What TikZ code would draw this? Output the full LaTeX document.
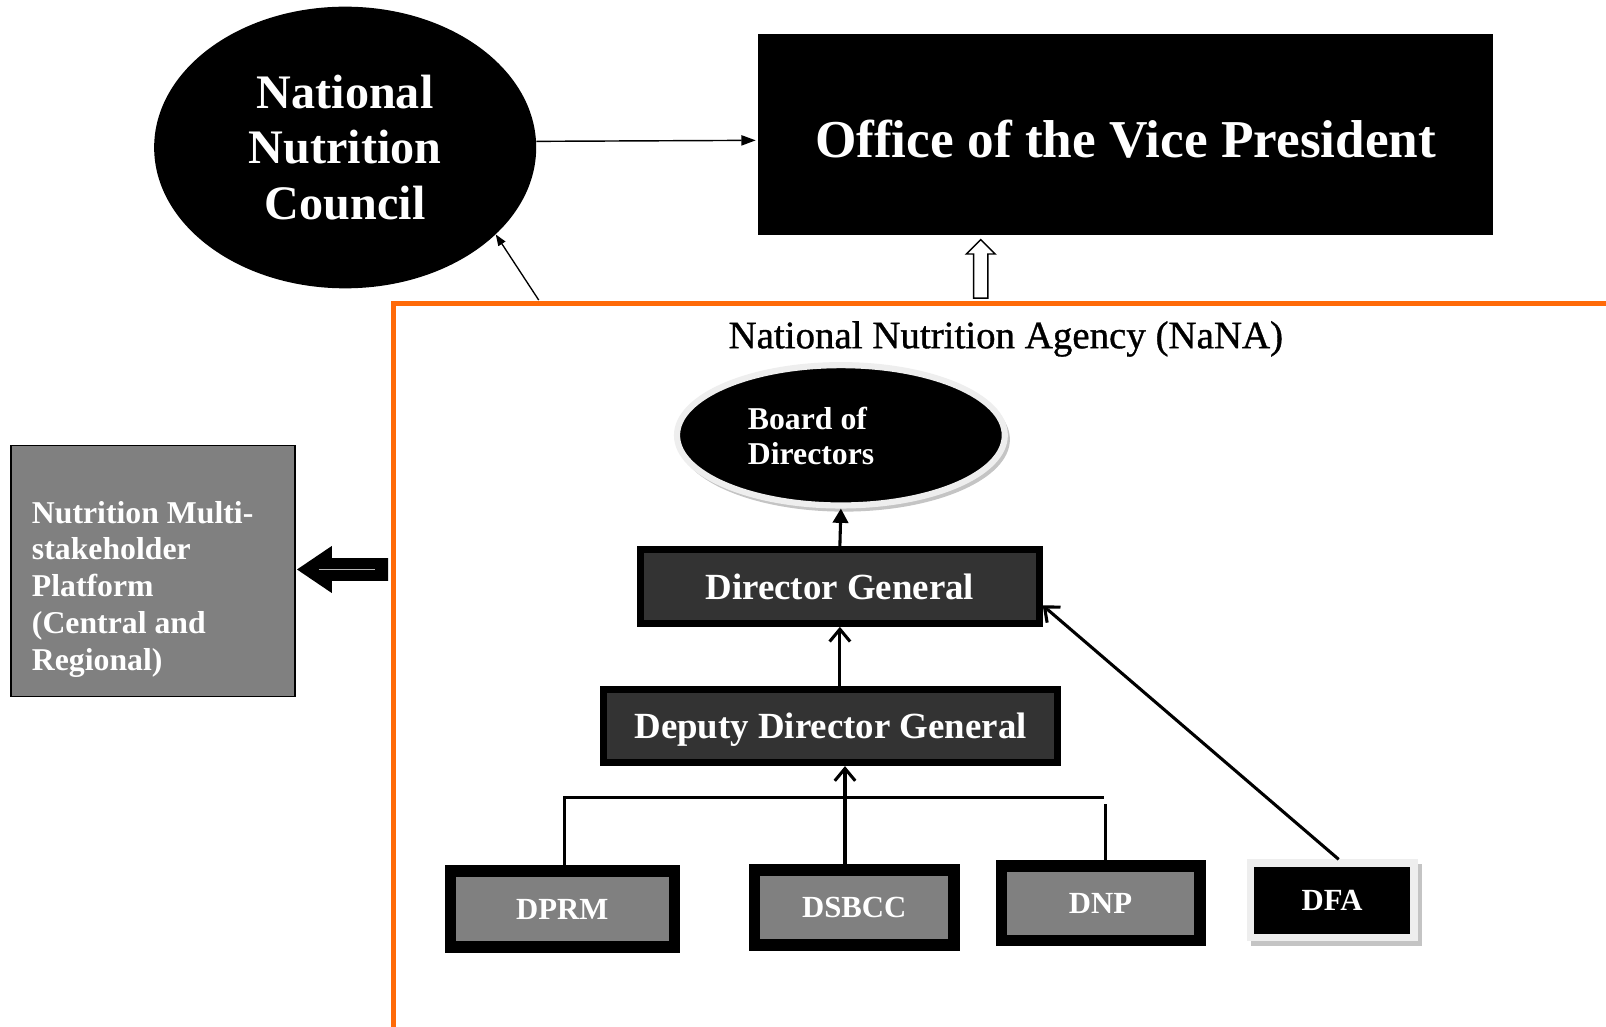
\documentclass[tikz,border=0pt]{standalone}
\usepackage{fontspec}
\setmainfont{Liberation Serif}
\newfontfamily\titlefont{Liberation Serif}[FakeBold=0.9]
\usetikzlibrary{arrows.meta,shapes.geometric,calc}
\definecolor{nanaorange}{RGB}{255,106,8}
\definecolor{darkfill}{RGB}{51,51,51}
\definecolor{midgray}{RGB}{128,128,128}
\definecolor{ringgray}{RGB}{238,238,238}
\definecolor{shadowgray}{RGB}{196,196,196}
\begin{document}
\begin{tikzpicture}[x=1pt,y=-1pt,
  rankbox/.style={rectangle, draw=black, line width=7pt, fill=darkfill, text=white,
    font=\bfseries\fontsize{36}{40}\selectfont, inner sep=0pt, text depth=0pt},
  divbox/.style={rectangle, draw=black, line width=11pt, fill=midgray, text=white,
    font=\bfseries\fontsize{30}{34}\selectfont, inner sep=0pt, text depth=0pt},
  link/.style={line width=3pt},
  openhead/.style={-{Straight Barb[length=12pt,width=20pt]}},
  fillhead/.style={-{Triangle[length=14pt,width=15pt]}},
  thinlink/.style={line width=1.4pt},
  hollowarrow/.style={draw=black, fill=white, line width=1.4pt}
]
\useasboundingbox (0,0) rectangle (1568,1002);
\fill[white] (0,0) rectangle (1568,1002);

% top level
\node[ellipse, fill=black, inner sep=0pt, minimum width=373pt, minimum height=275pt,
  text=white, align=center, font=\bfseries\fontsize{47}{54}\selectfont]
  (nnc) at (337,144) {National\\Nutrition\\Council};
\node[rectangle, fill=black, inner sep=0pt, minimum width=718pt, minimum height=196pt]
  (ovp) at (1099,131) {};
\node[text=white, inner sep=0pt, font=\bfseries\fontsize{52}{60}\selectfont]
  (ovptext) at ([yshift=-5pt]ovp.center) {Office of the Vice President};

% NaNA frame
\draw[nanaorange, line width=5pt] (1580,296) -| (384,1012);
\coordinate (otopA) at (526,293);
\coordinate (otopB) at (957,293);
\coordinate (oleft) at (382,556);
\node[inner sep=0pt, anchor=base, font=\titlefont\fontsize{38}{44}\selectfont]
  (title) at (982,340) {National Nutrition Agency (NaNA)};

% connectors at the top
\draw[thinlink, -{Triangle[length=14pt,width=10pt]}, shorten >=2pt]
  ([yshift=6pt]nnc.east) -- ([yshift=-6pt]ovp.west);
\draw[line width=1.3pt, -{Triangle[length=11pt,width=8pt]}] (otopA) -- (nnc.-30);
\draw[hollowarrow] (otopB) ++(-6.5,-2) -- ++(0,-43) -- ++(-7,0) -- ++(14,-14)
  -- ++(14,14) -- ++(-7,0) -- ++(0,43) -- cycle;

% multi-stakeholder platform
\node[rectangle, draw=black, line width=1.5pt, fill=midgray, inner sep=0pt,
  minimum width=277pt, minimum height=245pt] (nmp) at (149.5,557.5) {};
\node[anchor=north west, align=left, text=white, inner sep=0pt,
  font=\bfseries\fontsize{31}{36}\selectfont]
  (nmptext) at (31,489) {Nutrition Multi-\\stakeholder\\Platform\\(Central and\\Regional)};
\fill[black] (oleft) ++(-3,-11) -- ++(-55,0) -- ++(0,-12) -- ++(-34,23) -- ++(34,23)
  -- ++(0,-12) -- ++(55,0) -- cycle;
\draw[gray!55, line width=1pt] (311,556) -- (366,556);

% board of directors
\fill[shadowgray] (824,429) ellipse [x radius=162pt, y radius=70.5pt];
\node[ellipse, fill=black, draw=ringgray, line width=6pt, inner sep=0pt,
  minimum width=320pt, minimum height=137pt] (board) at (821,425) {};
\node[anchor=north west, align=left, text=white, inner sep=0pt,
  font=\bfseries\fontsize{31}{34}\selectfont]
  (boardtext) at (730,397) {Board of\\Directors};

% hierarchy
\node[rankbox, minimum width=389pt, minimum height=72pt] (dg) at (820,572.5) {Director General};
\node[rankbox, minimum width=443pt, minimum height=71pt] (ddg) at (811,709) {Deputy Director General};
\node[divbox, minimum width=219pt, minimum height=74pt] (dprm) at (549,887.5) {DPRM};
\node[divbox, minimum width=195pt, minimum height=73pt] (dsbcc) at (834,886) {DSBCC};
\node[divbox, minimum width=194pt, minimum height=73pt] (dnp) at (1074.5,882) {DNP};
\fill[shadowgray] (1221,844) rectangle (1388,924);
\node[rectangle, draw=ringgray, line width=7pt, fill=black, text=white, inner sep=0pt,
  text depth=0pt, font=\bfseries\fontsize{30}{34}\selectfont,
  minimum width=160pt, minimum height=73pt] (dfa) at (1300.5,879) {DFA};

\coordinate (bus) at (551,779);
\coordinate (bustwo) at (551,785);
\draw[link, fillhead] (dg.north) -- (board.south);
\draw[link, openhead] (dg.south |- ddg.north) -- (dg.south);
\draw[link, openhead] ([xshift=-9pt]dsbcc.north) -- ([xshift=-9pt]dsbcc.north |- ddg.south);
\draw[link] ([xshift=2pt]dprm.north) |- ([xshift=3.5pt]dnp.north |- bus);
\draw[link] ([xshift=5pt]dnp.north) -- ([xshift=5pt]dnp.north |- bustwo);
\draw[link, openhead] ([xshift=6.5pt]dfa.north) -- ([yshift=-18.5pt]dg.east);
\end{tikzpicture}
\end{document}
